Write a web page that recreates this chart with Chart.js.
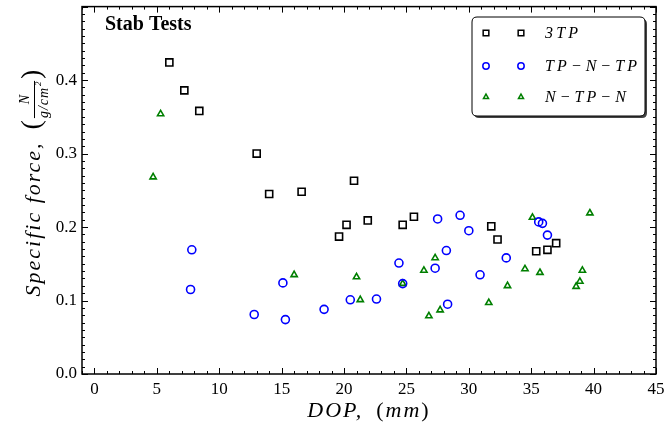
<!DOCTYPE html>
<html>
<head>
<meta charset="utf-8">
<script src="https://cdn.jsdelivr.net/npm/chart.js@4/dist/chart.umd.min.js"></script>
<style>
  body { margin: 0; background: #fff; }
  canvas { display: block; }
</style>
</head>
<body>
<canvas id="chart" width="666" height="431"></canvas>
<script>
// data
const xTicks = [0, 5, 10, 15, 20, 25, 30, 35, 40, 45];
const yTicks = [0, 0.1, 0.2, 0.3, 0.4];

const threeTpX = [6.0, 7.2, 8.4, 13.0, 14.0, 16.6, 20.8, 20.2, 21.9, 19.6, 24.7, 25.6, 31.8, 32.3, 35.4, 36.3, 37.0];
const threeTpY = [0.424, 0.386, 0.358, 0.300, 0.245, 0.248, 0.263, 0.203, 0.209, 0.187, 0.203, 0.214, 0.201, 0.183, 0.167, 0.169, 0.178];

const tpNTpX = [7.8, 7.7, 12.8, 15.3, 15.1, 18.4, 20.5, 22.6, 24.4, 24.7, 27.3, 28.2, 27.5, 29.3, 30.0, 28.3, 30.9, 33.0, 35.6, 35.9, 36.3];
const tpNTpY = [0.169, 0.115, 0.081, 0.074, 0.124, 0.088, 0.101, 0.102, 0.151, 0.123, 0.144, 0.168, 0.211, 0.216, 0.195, 0.095, 0.135, 0.158, 0.207, 0.205, 0.189];

const nTpNX = [5.3, 4.7, 16.0, 21.0, 21.3, 24.7, 26.4, 27.3, 26.8, 27.7, 31.6, 33.1, 34.5, 35.7, 35.1, 39.7, 39.1, 38.9, 38.6];
const nTpNY = [0.354, 0.268, 0.135, 0.132, 0.101, 0.123, 0.141, 0.158, 0.079, 0.087, 0.097, 0.120, 0.143, 0.138, 0.213, 0.219, 0.141, 0.126, 0.119];

const seriesNames = ['3\u2009T\u2009P', 'T\u2009P \u2212 N \u2212 T\u2009P', 'N \u2212 T\u2009P \u2212 N'];

const SERIF = '"Liberation Serif", "DejaVu Serif", serif';

function pts(xs, ys) {
    return xs.map((x, i) => ({ x: x, y: ys[i] }));
}

// frame, inward ticks, axis titles, label and legend
const decor = {
    id: 'decor',
    afterDatasetsDraw(chart) {
        const ctx = chart.ctx;
        const a = chart.chartArea;
        const xs = chart.scales.x, ys = chart.scales.y;
        ctx.save();
        ctx.strokeStyle = '#000';
        ctx.lineWidth = 1;
        ctx.beginPath();
        for (let v = -1; v <= 45; v++) {
            const px = Math.round(xs.getPixelForValue(v)) + 0.5;
            const len = v % 5 === 0 ? 6 : 3;
            ctx.moveTo(px, a.bottom); ctx.lineTo(px, a.bottom - len);
            ctx.moveTo(px, a.top); ctx.lineTo(px, a.top + len);
        }
        for (let i = 0; i <= 50; i++) {
            const py = Math.round(ys.getPixelForValue(i / 100)) + 0.5;
            const len = i % 10 === 0 ? 6 : 3;
            ctx.moveTo(a.left, py); ctx.lineTo(a.left + len, py);
            ctx.moveTo(a.right, py); ctx.lineTo(a.right - len, py);
        }
        ctx.stroke();
        ctx.lineWidth = 1.5;
        ctx.strokeRect(a.left, a.top, a.right - a.left, a.bottom - a.top);

        // "Stab Tests"
        ctx.fillStyle = '#000';
        ctx.font = 'bold 20px ' + SERIF;
        ctx.textAlign = 'left';
        ctx.textBaseline = 'middle';
        ctx.fillText('Stab Tests', 105, 25);

        // x title: DOP, (mm)
        ctx.letterSpacing = '2px';
        const xt = [['italic', 'DOP,'], ['normal', '\u2002('], ['italic', 'mm'], ['normal', ')']];
        let total = 0;
        xt.forEach(p => { ctx.font = p[0] + ' 22px ' + SERIF; total += ctx.measureText(p[1]).width; });
        let cx = (a.left + a.right) / 2 - total / 2;
        xt.forEach(p => {
            ctx.font = p[0] + ' 22px ' + SERIF;
            ctx.fillText(p[1], cx, 411);
            cx += ctx.measureText(p[1]).width;
        });

        // y title: Specific force, (N / g/cm^2)
        ctx.save();
        ctx.translate(34, 183);
        ctx.rotate(-Math.PI / 2);
        ctx.font = 'italic 22px ' + SERIF;
        const w1 = ctx.measureText('Specific force,').width;
        ctx.letterSpacing = '1px';
        ctx.font = 'italic 14px ' + SERIF;
        const wDen = ctx.measureText('g/cm').width + 6;
        ctx.letterSpacing = '0px';
        ctx.font = '28px ' + SERIF;
        const wPar = ctx.measureText('(').width;
        const tw = w1 + 12 + wPar * 2 + wDen + 4;
        let tx = -tw / 2;
        ctx.letterSpacing = '2px';
        ctx.font = 'italic 22px ' + SERIF;
        ctx.fillText('Specific force,', tx, 0);
        tx += w1 + 12;
        ctx.letterSpacing = '0px';
        ctx.font = '28px ' + SERIF;
        ctx.fillText('(', tx, -1);
        tx += wPar + 2;
        ctx.font = 'italic 14px ' + SERIF;
        ctx.textAlign = 'center';
        ctx.fillText('N', tx + wDen / 2, -9);
        ctx.textAlign = 'left';
        ctx.letterSpacing = '1px';
        ctx.fillText('g/cm', tx, 10);
        ctx.letterSpacing = '0px';
        ctx.font = 'italic 9px ' + SERIF;
        ctx.fillText('2', tx + wDen - 5, 5);
        ctx.beginPath();
        ctx.lineWidth = 1;
        ctx.moveTo(tx, 0.5); ctx.lineTo(tx + wDen, 0.5);
        ctx.stroke();
        tx += wDen + 2;
        ctx.font = '28px ' + SERIF;
        ctx.fillText(')', tx, -1);
        ctx.restore();
        ctx.letterSpacing = '0px';

        // legend with two markers per row
        const lx = 472, ly = 17, lw = 173, lh = 99, r = 5;
        function box(x, y) {
            ctx.beginPath();
            ctx.moveTo(x + r, y); ctx.lineTo(x + lw - r, y);
            ctx.quadraticCurveTo(x + lw, y, x + lw, y + r);
            ctx.lineTo(x + lw, y + lh - r);
            ctx.quadraticCurveTo(x + lw, y + lh, x + lw - r, y + lh);
            ctx.lineTo(x + r, y + lh);
            ctx.quadraticCurveTo(x, y + lh, x, y + lh - r);
            ctx.lineTo(x, y + r);
            ctx.quadraticCurveTo(x, y, x + r, y);
            ctx.closePath();
        }
        box(lx + 2, ly + 2);
        ctx.fillStyle = '#444';
        ctx.fill();
        box(lx, ly);
        ctx.fillStyle = '#fff';
        ctx.fill();
        ctx.lineWidth = 1;
        ctx.strokeStyle = '#000';
        ctx.stroke();
        const rowsY = [33, 66, 97];
        chart.data.datasets.forEach((ds, i) => {
            const y = rowsY[i];
            [486, 521].forEach(mx => {
                ctx.lineWidth = 1.5;
                ctx.strokeStyle = ds.pointBorderColor;
                ctx.fillStyle = '#fff';
                Chart.helpers.drawPoint(ctx, { pointStyle: ds.pointStyle, radius: ds.pointRadius * 0.8, borderWidth: 1.5, rotation: 0 }, mx, y);
            });
            ctx.fillStyle = '#000';
            ctx.font = 'italic 16px ' + SERIF;
            ctx.textAlign = 'left';
            ctx.fillText(ds.label, 545, y + 1);
        });
        ctx.restore();
    }
};

new Chart(document.getElementById('chart'), {
    type: 'scatter',
    data: {
        datasets: [
            {
                label: seriesNames[0],
                data: pts(threeTpX, threeTpY),
                pointStyle: 'rect',
                pointRadius: 5,
                pointBorderColor: '#000',
                pointBackgroundColor: 'rgba(255,255,255,0)',
                pointBorderWidth: 1.6
            },
            {
                label: seriesNames[1],
                data: pts(tpNTpX, tpNTpY),
                pointStyle: 'circle',
                pointRadius: 4,
                pointBorderColor: '#0000ff',
                pointBackgroundColor: 'rgba(255,255,255,0)',
                pointBorderWidth: 1.6
            },
            {
                label: seriesNames[2],
                data: pts(nTpNX, nTpNY),
                pointStyle: 'triangle',
                pointRadius: 3.6,
                pointBorderColor: '#007f00',
                pointBackgroundColor: 'rgba(255,255,255,0)',
                pointBorderWidth: 1.6
            }
        ]
    },
    options: {
        responsive: false,
        animation: false,
        layout: { padding: { top: 5, right: 10, left: 0, bottom: 0 } },
        plugins: {
            legend: { display: false },
            tooltip: { enabled: false }
        },
        scales: {
            x: {
                type: 'linear',
                min: -1,
                max: 45,
                grid: { display: false, drawTicks: false },
                border: { display: false },
                afterBuildTicks: s => { s.ticks = xTicks.map(v => ({ value: v })); },
                afterFit: s => { s.height = 57; s.paddingLeft = 0; s.paddingRight = 0; },
                ticks: {
                    color: '#000',
                    padding: 5,
                    maxRotation: 0,
                    font: { family: SERIF, size: 17 },
                    callback: v => String(v)
                }
            },
            y: {
                min: 0,
                max: 0.5,
                grid: { display: false, drawTicks: false },
                border: { display: false },
                afterBuildTicks: s => { s.ticks = yTicks.map(v => ({ value: v })); },
                afterFit: s => { s.width = 82; s.paddingTop = 0; s.paddingBottom = 0; },
                ticks: {
                    color: '#000',
                    padding: 5,
                    font: { family: SERIF, size: 17 },
                    callback: v => v.toFixed(1)
                }
            }
        }
    },
    plugins: [decor]
});
</script>
</body>
</html>
